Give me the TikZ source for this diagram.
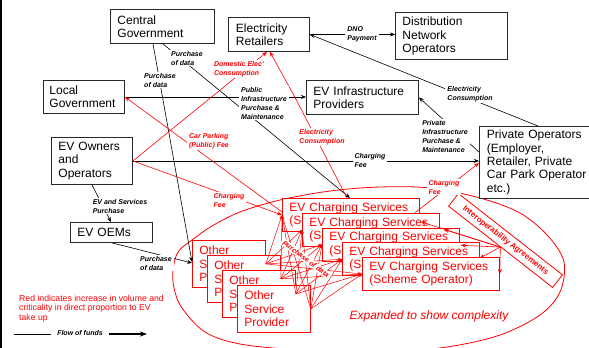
\documentclass[tikz,border=0pt]{standalone}
\usepackage{fontspec}
\setmainfont{Liberation Sans}
\usetikzlibrary{arrows.meta,calc}
\definecolor{rd}{RGB}{255,0,0}
\definecolor{edge}{RGB}{40,40,40}

\begin{document}
\begin{tikzpicture}[x=1pt,y=-1pt,
  box/.style={draw=edge, line width=0.9pt, fill=white, align=left, anchor=north west,
    inner xsep=7pt, inner ysep=0pt, font=\fontsize{12}{13.4}\selectfont},
  rbox/.style={box, draw=rd, text=rd, line width=0.8pt},
  lab/.style={fill=white, inner xsep=2pt, inner ysep=1pt, align=left, font=\fontsize{7}{9}\selectfont\bfseries\itshape},
  rlab/.style={lab, text=rd},
  flow/.style={line width=0.6pt, -{Stealth[length=5pt,width=4pt]}},
  rflow/.style={flow, draw=rd},
  mesh/.style={draw=rd, line width=0.5pt, -{Stealth[length=4pt,width=3pt]}},
]
\useasboundingbox (0,0) rectangle (589,348);

% page edge
\draw[line width=1.5pt] (1,0) -- (1,348);

% scope of the expanded view
\draw[rd, line width=0.8pt] plot[smooth cycle, tension=0.55] coordinates {
  (173,270) (178,252) (192,240) (212,226) (240,212) (280,200) (330,191) (380,187)
  (430,188) (480,198) (520,213) (548,236) (564,262) (560,292) (540,315) (500,335)
  (447,347) (380,353) (300,350) (240,344) (205,332) (182,308) (174,288)};

% stacked service providers
\foreach \j in {1,...,4}
  \node[rbox, text width=59pt, minimum height=47pt] (osp\j)
    at ({192+15*(\j-1)},{240+15*(\j-1)}) {Other\\Service\\Provider};

% stacked charging scheme operators
\foreach \i in {1,...,5}
  \node[rbox, text width=123pt, minimum height=33pt] (ev\i)
    at ({282+20*(\i-1)},{198+14.75*(\i-1)}) {EV Charging Services\\(Scheme Operator)};

% data purchases between every provider and every operator
\foreach \j in {1,...,4}
  \foreach \i in {1,...,5}
    \draw[mesh] (osp\j.east) -- ([shift={(0,17)}]ev\i.north west);

% main actors
\node[box, text width=90pt, minimum height=34pt] (cg) at (110,9) {Central\\Government};
\node[box, text width=66pt, inner xsep=7.5pt, minimum height=34pt] (er) at (228,17) {Electricity\\Retailers};
\node[box, text width=98pt, minimum height=47pt] (dno) at (395,12) {Distribution\\Network\\Operators};
\node[box, text width=69pt, inner xsep=6pt, minimum height=33pt] (lg) at (43,80) {Local\\Government};
\node[box, text width=98pt, minimum height=34pt] (evip) at (306,80) {EV Infrastructure\\Providers};
\node[box, text width=67pt, minimum height=47pt] (evo) at (51,137) {EV Owners\\and\\Operators};
\node[box, text width=101pt, inner xsep=7.5pt, minimum height=72pt] (po) at (479,126)
  {Private Operators\\(Employer,\\Retailer, Private\\Car Park Operator\\etc.)};
\node[box, text width=68pt, minimum height=20pt] (oem) at (70,222) {EV OEMs};

% interoperability between schemes
\node[draw=rd, fill=white, line width=0.8pt, rotate=-38, minimum width=132pt, minimum height=16pt,
  inner sep=0pt, text=rd, font=\fontsize{8}{9}\selectfont\bfseries] (io) at (505.5,240.5)
  {Interoperability Agreements};
\draw[rflow] (io.south) -- ([shift={(-19,9)}]ev2.north east);
\draw[rflow] (io.south) -- ([shift={(-16,2)}]ev3.north east);
\draw[rflow] (io.south) -- ([shift={(-19,3)}]ev4.north east);
\draw[rflow] (io.south) -- ([shift={(-20,1)}]ev5.north east);
\draw[rflow] (io.south) -- (ev5.east);

% flows of funds (black)
\draw[flow] ([shift={(43,0)}]cg.south west) -- ([shift={(0,22)}]osp1.north west);
\draw[flow] ([shift={(53,0)}]cg.south west) -- ([shift={(68,0)}]ev1.north west);
\draw[flow] (lg.east) -- (lg.east -| evip.west);
\draw[flow] (er.east) -- (er.east -| dno.west);
\draw[flow] ([shift={(59,0)}]po.north west) -- (er.east);
\draw[flow] (evo.east) -- (evo.east -| po.west);
\draw[flow] ([shift={(0,26)}]po.north west) -- (evip.east);
\draw[flow] ([shift={(41,0)}]evo.south west) -- ([shift={(41,0)}]oem.north west);
\draw[flow] ([shift={(42,0)}]oem.south west) -- ([shift={(0,23)}]osp1.north west);

% flows growing with EV take-up (red)
\draw[rflow] (evo.east) -- ([shift={(0,17)}]ev1.north west);
\draw[rflow] ([shift={(0,14)}]ev1.north west) -- (lg.east);
\draw[rflow] (evo.east) -- ([shift={(39,0)}]er.south west);
\draw[rflow] ([shift={(65,0)}]ev1.north west) -- ([shift={(-11,0)}]evip.west)
  -- ([shift={(42,0)}]er.south west);
\draw[rflow] ([shift={(113,0)}]ev2.north west) -- ([shift={(0,37)}]po.north west);

% flow labels
\node[lab] (l1) at (160,80) {Purchase\\of data};
\node[lab] (l2) at (187,58) {Purchase\\of data};
\node[rlab] (l3) at (239,69) {Domestic Elec'\\Consumption};
\node[lab] (l4) at (264,103) {Public\\Infrastructure\\Purchase \&\\Maintenance};
\node[rlab] (l5) at (209,141) {Car Parking\\(Public) Fee};
\node[rlab] (l6) at (322,137) {Electricity\\Consumption};
\node[lab] (l7) at (362,34) {DNO\\Payment};
\node[lab] (l8) at (470,94) {Electricity\\Consumption};
\node[lab] (l9) at (445,136) {Private\\Infrastructure\\Purchase \&\\Maintenance};
\node[lab] (l10) at (370,160) {Charging\\Fee};
\node[rlab] (l11) at (229,200) {Charging\\Fee};
\node[rlab] (l12) at (444,187) {Charging\\Fee};
\node[lab] (l13) at (120,206) {EV and Services\\Purchase};
\node[lab] (l14) at (156,263) {Purchase\\of data};
\node[rlab, rotate=-37] (l15) at (306,259) {Purchase of data};

% captions and key
\node[text=rd, font=\fontsize{12}{14}\selectfont\itshape, inner sep=0pt] (exp) at (429,316)
  {Expanded to show complexity};
\node[anchor=west, inner sep=0pt, align=left, text=rd, font=\fontsize{8.7}{9.6}\selectfont] (note)
  at (19,308.5) {Red indicates increase in volume and\\criticality in direct proportion to EV\\take up};
\coordinate (fa) at (14,334);
\coordinate (fz) at (147,334);
\node[lab, fill=none, inner xsep=6pt] (fof) at (80,333) {Flow of funds};
\draw[line width=0.9pt] (fa) -- (fa -| fof.west);
\draw[line width=1.1pt, -{Stealth[length=7pt,width=5pt]}] (fa -| fof.east) -- (fz);
\end{tikzpicture}
\end{document}
